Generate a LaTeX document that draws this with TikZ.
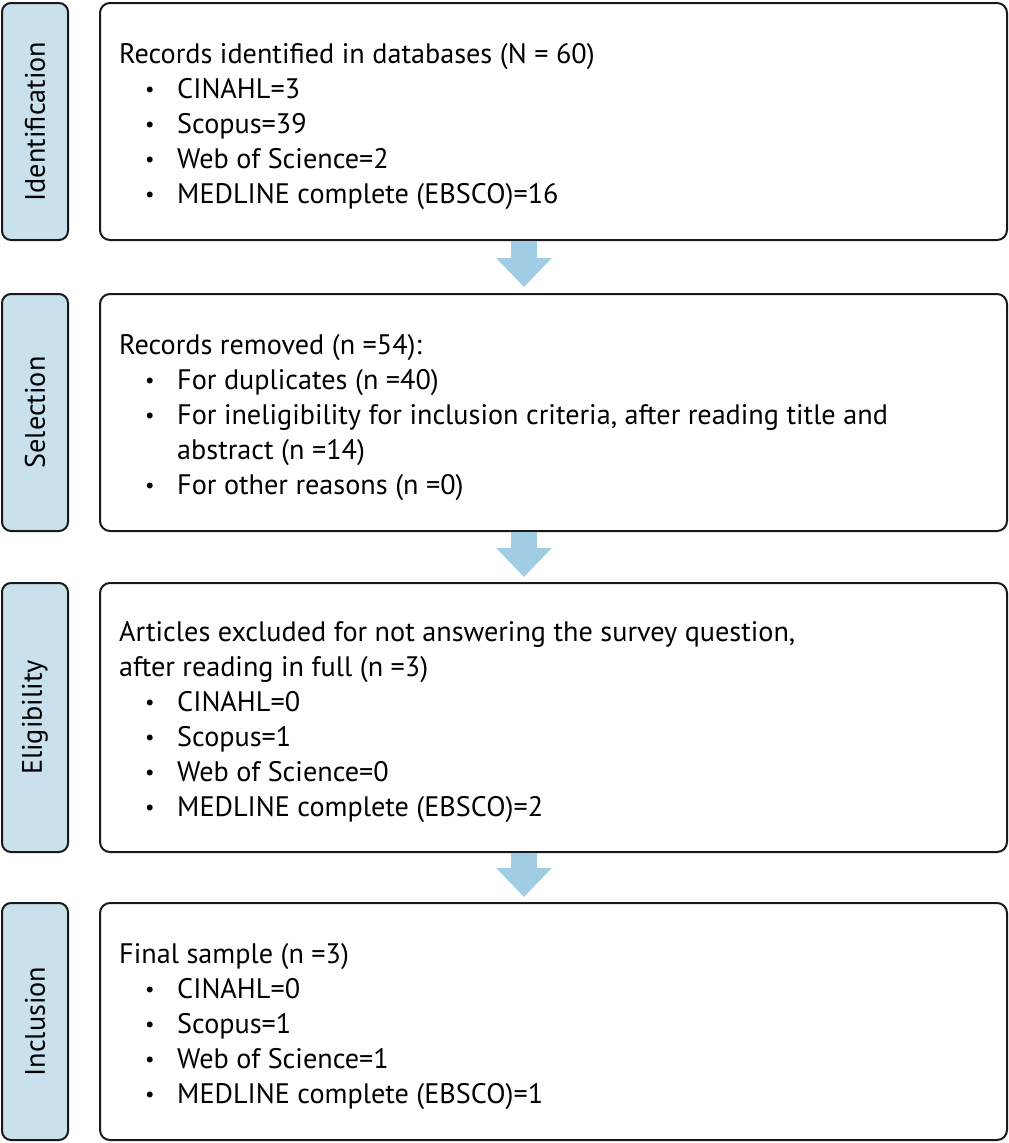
\documentclass[tikz,border=0pt]{standalone}
\usepackage{fontspec}
\setmainfont{PT Sans}
\usetikzlibrary{positioning, calc, arrows.meta}
\definecolor{prStage}{RGB}{200, 225, 237}
\definecolor{prArrow}{RGB}{160, 205, 228}
\definecolor{prLine}{RGB}{25, 25, 25}
\tikzset{
    base/.style={
        font=\fontsize{28.2}{35}\selectfont,
        align=left
    },
    stage/.style={
        draw=prLine,
        line width=2pt,
        rounded corners=9pt,
        fill=prStage,
        minimum width=66pt
    },
    stagelabel/.style={
        base,
        rotate=90,
        inner sep=0pt
    },
    record/.style={
        draw=prLine,
        line width=2pt,
        rounded corners=10pt,
        fill=white,
        minimum width=907pt
    },
    recordtext/.style={
        base,
        anchor=west,
        inner sep=0pt
    },
    flow/.style={
        prArrow,
        line width=26pt,
        -{Triangle[length=29pt, width=54pt]}
    }
}
\newcommand{\bul}{\makebox[58pt][l]{\hspace{26pt}\raisebox{2pt}{\fontsize{21}{21}\selectfont\textbullet}}}

\begin{document}
\begin{tikzpicture}[x=1pt, y=-1pt]
    \useasboundingbox (0,0) rectangle (1009,1143);

    % Stages
    \node[stage, minimum height=237pt] (ident) at (35,121.5) {};
    \node[stage, minimum height=237pt] (select) at (35,412.5) {};
    \node[stage, minimum height=269pt] (elig) at (35,717.5) {};
    \node[stage, minimum height=237pt] (incl) at (35,1021.5) {};
    \node[stagelabel] (ident-lbl) at (ident) {Identification};
    \node[stagelabel] (select-lbl) at (select) {Selection};
    \node[stagelabel] (elig-lbl) at (elig) {Eligibility};
    \node[stagelabel] (incl-lbl) at (incl) {Inclusion};

    % Records
    \node[record, minimum height=237pt] (found) at (553.5,121.5) {};
    \node[record, minimum height=237pt] (removed) at (553.5,412.5) {};
    \node[record, minimum height=269pt] (excluded) at (553.5,717.5) {};
    \node[record, minimum height=237pt] (sample) at (553.5,1021.5) {};

    \node[recordtext] (found-txt) at ([xshift=20pt, yshift=-5pt]found.west) {%
        Records identified in databases (N = 60)\\
        \bul CINAHL=3\\
        \bul Scopus=39\\
        \bul Web of Science=2\\
        \bul MEDLINE complete (EBSCO)=16};
    \node[recordtext] (removed-txt) at ([xshift=20pt, yshift=-5pt]removed.west) {%
        Records removed (n =54):\\
        \bul For duplicates (n =40)\\
        \bul For ineligibility for inclusion criteria, after reading title and\\
        \makebox[58pt]{}abstract (n =14)\\
        \bul For other reasons (n =0)};
    \node[recordtext] (excluded-txt) at ([xshift=20pt, yshift=-5pt]excluded.west) {%
        Articles excluded for not answering the survey question,\\
        after reading in full (n =3)\\
        \bul CINAHL=0\\
        \bul Scopus=1\\
        \bul Web of Science=0\\
        \bul MEDLINE complete (EBSCO)=2};
    \node[recordtext] (sample-txt) at ([xshift=20pt, yshift=-5pt]sample.west) {%
        Final sample (n =3)\\
        \bul CINAHL=0\\
        \bul Scopus=1\\
        \bul Web of Science=1\\
        \bul MEDLINE complete (EBSCO)=1};

    % Arrows
    \coordinate (axis) at (524,0);
    \draw[flow] (axis |- found.south) -- ([yshift=6pt]axis |- removed.north);
    \draw[flow] (axis |- removed.south) -- ([yshift=5pt]axis |- excluded.north);
    \draw[flow] (axis |- excluded.south) -- ([yshift=5pt]axis |- sample.north);
\end{tikzpicture}
\end{document}
